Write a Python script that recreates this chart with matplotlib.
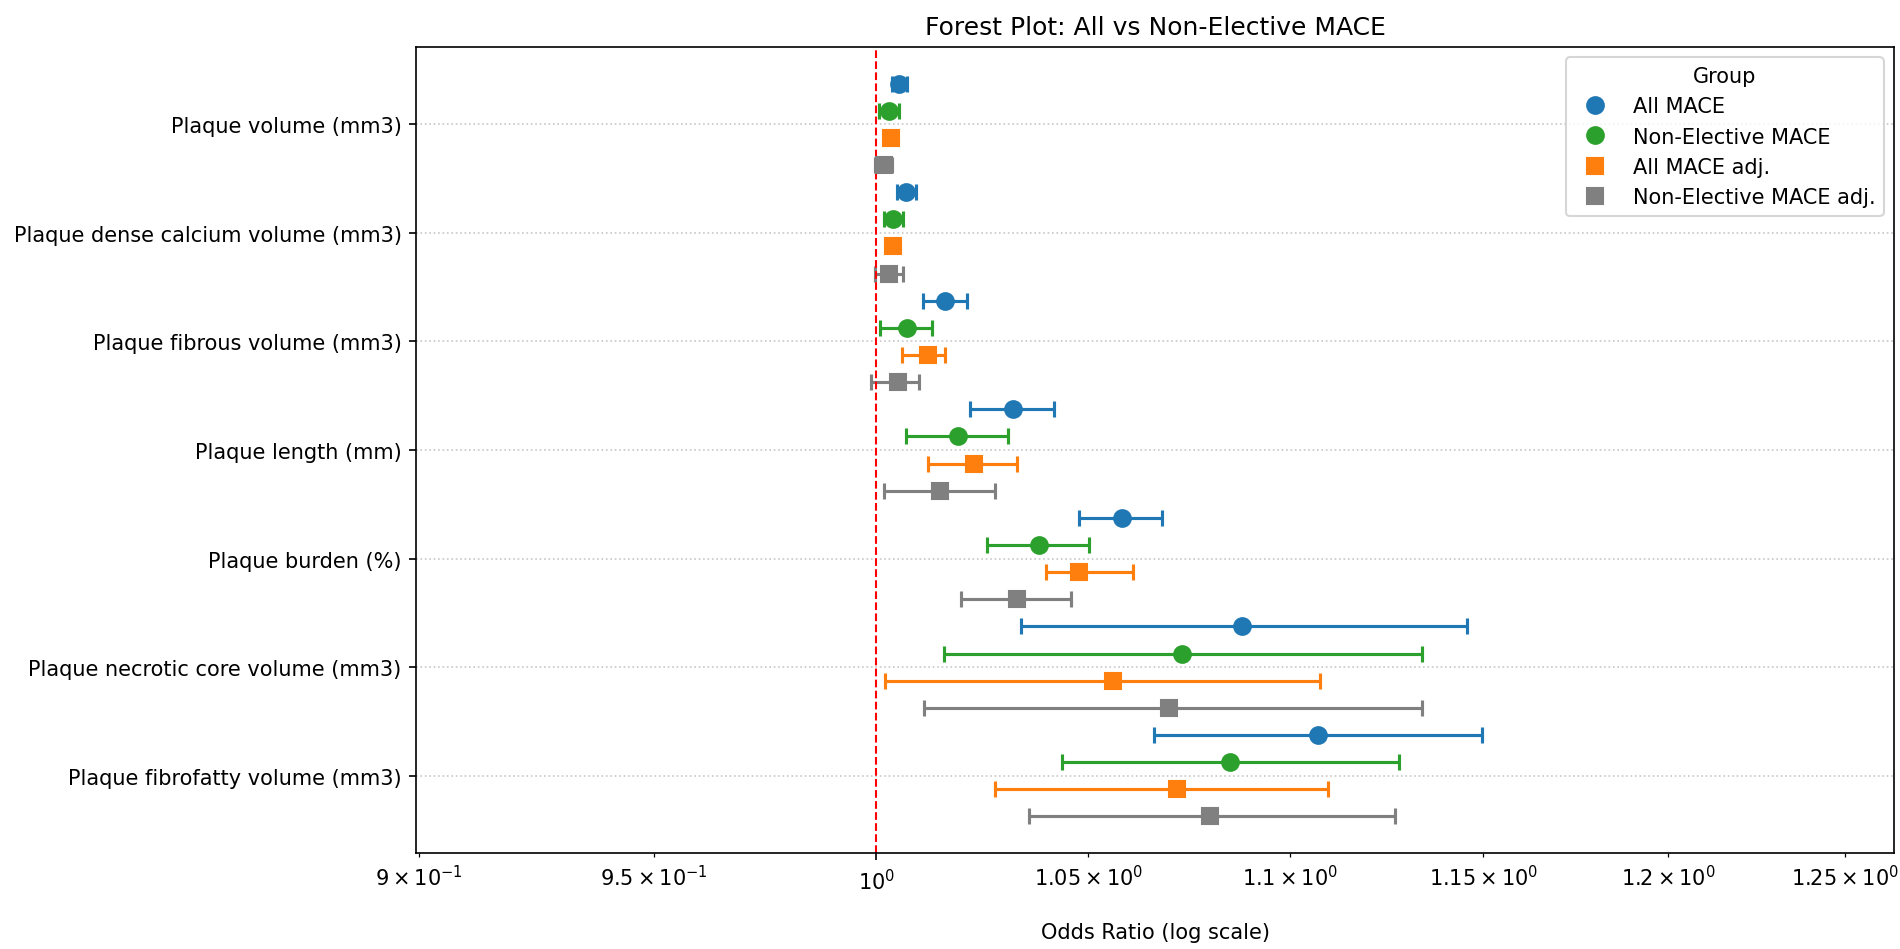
import numpy as np
import matplotlib
matplotlib.use("Agg")
import matplotlib.pyplot as plt
from matplotlib.lines import Line2D

# categories, top to bottom
categories = ["Plaque volume (mm3)", "Plaque dense calcium volume (mm3)",
              "Plaque fibrous volume (mm3)", "Plaque length (mm)",
              "Plaque burden (%)", "Plaque necrotic core volume (mm3)",
              "Plaque fibrofatty volume (mm3)"]

# odds ratios with 95% CI
all_or = [1.0052, 1.0068, 1.0159, 1.0319, 1.0581, 1.0878, 1.1070]
all_lo = [1.0035, 1.0047, 1.0107, 1.0218, 1.0477, 1.0338, 1.0659]
all_hi = [1.0071, 1.0091, 1.0211, 1.0417, 1.0679, 1.1458, 1.1496]

ne_or = [1.0029, 1.0039, 1.0070, 1.0190, 1.0381, 1.0729, 1.0848]
ne_lo = [1.0006, 1.0017, 1.0008, 1.0068, 1.0258, 1.0157, 1.0437]
ne_hi = [1.0052, 1.0061, 1.0129, 1.0308, 1.0501, 1.1338, 1.1278]

adj_or = [1.0033, 1.0039, 1.0119, 1.0228, 1.0477, 1.0560, 1.0717]
adj_lo = [1.0020, 1.0025, 1.0058, 1.0119, 1.0398, 1.0019, 1.0276]
adj_hi = [1.0046, 1.0053, 1.0159, 1.0328, 1.0608, 1.1076, 1.1097]

neadj_or = [1.0018, 1.0028, 1.0050, 1.0148, 1.0330, 1.0698, 1.0798]
neadj_lo = [0.9997, 0.9997, 0.9987, 1.0018, 1.0197, 1.0110, 1.0357]
neadj_hi = [1.0035, 1.0061, 1.0098, 1.0277, 1.0458, 1.1338, 1.1268]

groups = ["All MACE", "Non-Elective MACE", "All MACE adj.", "Non-Elective MACE adj."]
colors = ["#1f77b4", "#2ca02c", "#ff7f0e", "gray"]
markers = ["o", "o", "s", "s"]
offsets = [-0.375, -0.125, 0.125, 0.375]
series = [(all_or, all_lo, all_hi), (ne_or, ne_lo, ne_hi),
          (adj_or, adj_lo, adj_hi), (neadj_or, neadj_lo, neadj_hi)]

fig, ax = plt.subplots(figsize=(12.667, 6.333), dpi=150)

y = np.arange(len(categories))
for (orv, lo, hi), c, m, off in zip(series, colors, markers, offsets):
    orv = np.array(orv)
    err = [orv - np.array(lo), np.array(hi) - orv]
    ax.errorbar(orv, y + off, xerr=err, fmt=m, color=c, ecolor=c,
                markersize=8, capsize=4, elinewidth=1.5, capthick=1.5)

ax.axvline(1, color="red", linestyle="--", linewidth=1)
ax.set_xscale("log")
ax.set_xlim(0.8994, 1.2641)
ax.set_yticks(y)
ax.set_yticklabels(categories)
ax.invert_yaxis()
ax.grid(axis="y", linestyle=":", alpha=0.7)
ax.set_xlabel("Odds Ratio (log scale)", labelpad=14)
ax.set_title("Forest Plot: All vs Non-Elective MACE")

handles = [Line2D([], [], marker=m, color=c, linestyle="", markersize=8)
           for m, c in zip(markers, colors)]
ax.legend(handles, groups, title="Group", loc="upper right")

fig.subplots_adjust(left=0.219, right=0.9968, top=0.9495, bottom=0.101)
fig.savefig("out.png", dpi=150)
